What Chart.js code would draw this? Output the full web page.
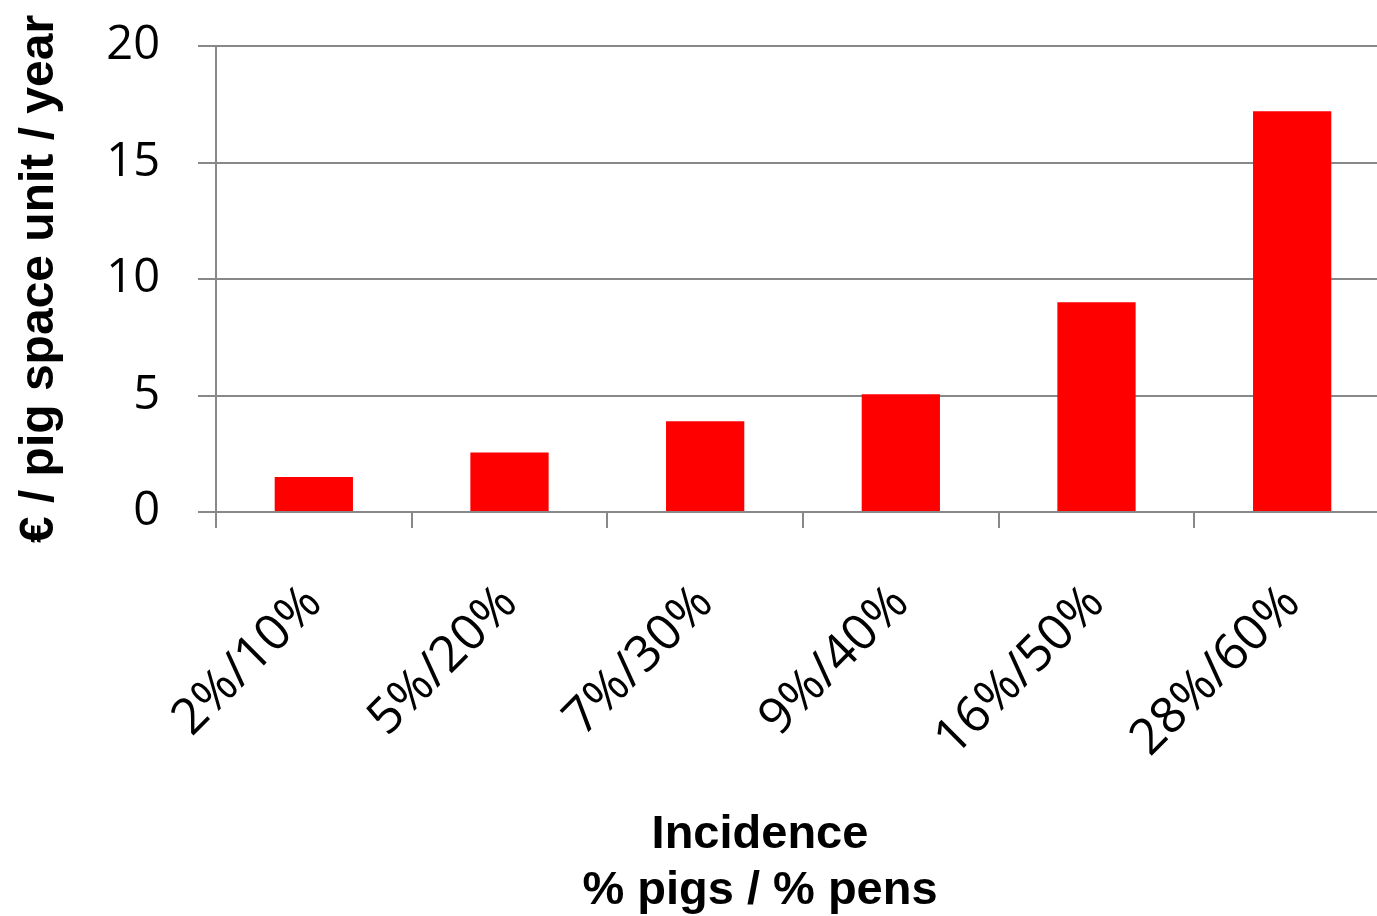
<!DOCTYPE html>
<html>
<head>
<meta charset="utf-8">
<script src="https://cdn.jsdelivr.net/npm/chart.js@4/dist/chart.umd.min.js"></script>
<style>
  html, body { margin: 0; padding: 0; background: #ffffff; overflow: hidden; }
  #wrap { width: 1377px; height: 916px; overflow: hidden; position: relative; }
  canvas { display: block; }
</style>
</head>
<body>
<div id="wrap"><canvas id="c" width="1390" height="916"></canvas></div>
<script>
const categories = ['2%/10%', '5%/20%', '7%/30%', '9%/40%', '16%/50%', '28%/60%'];
const costValues = [1.5, 2.55, 3.9, 5.05, 9.0, 17.2];
const yTitle = '€ / pig space unit / year';
const xTitleLines = ['Incidence', '% pigs / % pens'];

const gridColor = '#888888';

const xTitlePlugin = {
  id: 'xTitlePlugin',
  afterDraw(chart) {
    const ctx = chart.ctx;
    ctx.save();
    ctx.font = 'bold 47px "Liberation Sans", Arial, sans-serif';
    ctx.fillStyle = '#000000';
    ctx.textAlign = 'center';
    ctx.textBaseline = 'alphabetic';
    ctx.fillText(xTitleLines[0], 760, 848);
    ctx.fillText(xTitleLines[1], 760, 904);
    ctx.restore();
  }
};

new Chart(document.getElementById('c'), {
  type: 'bar',
  data: {
    labels: categories,
    datasets: [{
      data: costValues,
      backgroundColor: '#ff0000',
      borderWidth: 0,
      barPercentage: 0.4,
      categoryPercentage: 1.0
    }]
  },
  options: {
    responsive: false,
    animation: false,
    layout: { padding: { top: 46, right: 0, left: 0, bottom: 0 } },
    plugins: {
      legend: { display: false },
      tooltip: { enabled: false },
      title: { display: false }
    },
    scales: {
      x: {
        offset: true,
        grid: {
          offset: true,
          drawOnChartArea: false,
          drawTicks: true,
          tickLength: 16,
          color: gridColor,
          lineWidth: 2
        },
        border: { display: true, color: gridColor, width: 2 },
        ticks: {
          autoSkip: false,
          maxRotation: 45,
          minRotation: 45,
          padding: 46,
          color: '#000000',
          font: { family: '"Open Sans", sans-serif', size: 50 }
        },
        afterFit(scale) {
          scale.height = 404;
          scale.paddingLeft = 0;
          scale.paddingRight = 0;
        }
      },
      y: {
        min: 0,
        max: 20,
        ticks: {
          stepSize: 5,
          padding: 38,
          color: '#000000',
          font: { family: '"Open Sans", sans-serif', size: 47 }
        },
        grid: {
          color: gridColor,
          lineWidth: 2,
          tickLength: 18,
          drawTicks: true
        },
        border: { display: true, color: gridColor, width: 2 },
        title: {
          display: true,
          text: yTitle,
          color: '#000000',
          font: { family: '"Liberation Sans", Arial, sans-serif', size: 48, weight: 'bold' },
          padding: { top: 11, bottom: 0 }
        },
        afterFit(scale) {
          scale.width = 216;
          scale.paddingTop = 0;
          scale.paddingBottom = 0;
        }
      }
    }
  },
  plugins: [xTitlePlugin]
});
</script>
</body>
</html>
